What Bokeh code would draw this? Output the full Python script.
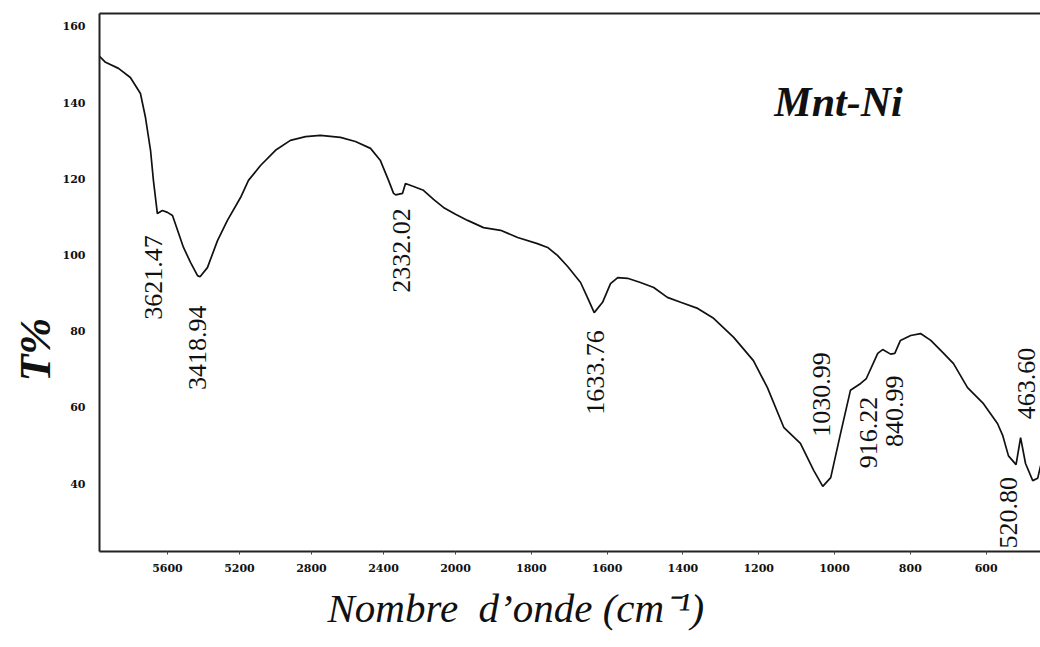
import numpy as np
from bokeh.plotting import figure
from bokeh.models import Range1d, FixedTicker, LinearAxis, Label, ColumnDataSource, Title
from bokeh.core.properties import value
from bokeh.embed import file_html
from bokeh.resources import INLINE

# ---------------- data ----------------
wavenumber = [3983, 3944, 3872, 3806, 3750, 3722, 3694, 3678, 3656, 3628, 3600, 3572,
              3511, 3472, 3433, 3419, 3378, 3322, 3267, 3194, 3150, 3083, 3000, 2917,
              2833, 2750, 2639, 2556, 2472, 2417, 2372, 2344, 2332, 2294, 2278, 2233,
              2178, 2122, 2067, 2000, 1968, 1926, 1881, 1836, 1784, 1757, 1731, 1704,
              1670, 1652, 1634, 1612, 1591, 1572, 1546, 1512, 1477, 1441, 1406, 1361,
              1319, 1266, 1214, 1177, 1134, 1090, 1055, 1031, 1010, 984, 958, 931,
              916, 886, 873, 852, 841, 826, 799, 773, 746, 712, 686, 649, 607, 570,
              556, 541, 521, 509, 496, 477, 464, 456]
transmittance = [152.4, 150.6, 149.0, 146.6, 142.4, 136.1, 127.5, 119.6, 110.9, 111.7, 111.2, 110.4,
                 102.0, 98.1, 94.6, 94.3, 96.7, 103.8, 109.1, 115.1, 119.6, 123.5, 127.5, 130.1,
                 131.1, 131.4, 130.9, 129.8, 128.0, 124.8, 119.6, 116.2, 115.8, 116.2, 118.8, 118.0,
                 117.0, 114.6, 112.5, 110.7, 109.1, 107.2, 106.5, 104.6, 103.0, 102.0, 99.9, 97.0,
                 92.8, 88.9, 84.9, 87.6, 92.5, 94.1, 93.9, 92.8, 91.5, 88.9, 87.6, 86.0,
                 83.4, 78.4, 72.3, 65.2, 54.8, 50.6, 43.5, 39.3, 41.6, 53.2, 64.5, 66.3,
                 67.6, 74.2, 75.2, 74.0, 74.2, 77.6, 78.9, 79.4, 77.6, 74.2, 71.5, 65.2, 61.0, 55.8,
                 52.6, 47.3, 45.0, 52.1, 45.3, 40.8, 41.4, 44.8]

peak_labels = ["3621.47", "3418.94", "2332.02", "1633.76", "1030.99", "916.22", "840.99", "520.80", "463.60"]
peak_wn = [3621.47, 3418.94, 2332.02, 1633.76, 1030.99, 916.22, 840.99, 520.80, 463.60]

tick_wn = [3600, 3200, 2800, 2400, 2000, 1800, 1600, 1400, 1200, 1000, 800, 600]
tick_text = ["5600", "5200", "2800", "2400", "2000", "1800", "1600", "1400", "1200", "1000", "800", "600"]
y_ticks = [40, 60, 80, 100, 120, 140, 160]

sample_name = "Mnt-Ni"
x_title = "Nombre \u00a0d\u2019onde (cm\u207b\u00b9)"
y_title = "T%"

# ------------- axis with scale break at 2000 cm-1 -------------
BREAK = 2000.0
COMPRESS = 0.475


def to_axis(wn):
    wn = np.asarray(wn, dtype=float)
    return np.where(wn > BREAK, BREAK + (wn - BREAK) * COMPRESS, wn)


# ------------- label layout (annotation placement) -------------
peak_dx = [-10, -3, 6, 1, -1, 2, 0, -8, -11]          # px offsets from peak position
peak_ty = [94.1, 75.7, 101.2, 69.2, 63.4, 53.4, 59.0, 32.4, 66.3]  # label centre, T%

serif = "Liberation Serif"

p = figure(width=1040, height=647, output_backend="svg", toolbar_location=None,
           x_range=Range1d(2939.3, 456.5), y_range=Range1d(22.2, 163.4),
           min_border_left=99, min_border_right=0, min_border_top=13, min_border_bottom=96,
           background_fill_color="white", border_fill_color="white")
p.outline_line_color = None
p.grid.visible = False

p.line(to_axis(wavenumber), transmittance, line_color="#111111", line_width=1.7)

src = ColumnDataSource(dict(x=to_axis(peak_wn), y=peak_ty, t=peak_labels, dx=peak_dx))
p.text(x="x", y="y", text="t", x_offset="dx", source=src, angle=np.pi / 2,
       text_align="center", text_baseline="middle",
       text_font=value(serif), text_font_size="26px", text_color="#111111")

# axes
xa = p.xaxis[0]
xa.ticker = FixedTicker(ticks=list(to_axis(tick_wn)))
xa.major_label_overrides = {float(u): t for u, t in zip(to_axis(tick_wn), tick_text)}
xa.axis_line_width = 2
xa.axis_line_color = "#222222"
xa.major_tick_in = 0
xa.major_tick_out = 3
xa.major_tick_line_color = "#444444"
xa.minor_tick_out = 0
xa.minor_tick_in = 0
xa.major_label_standoff = 9
xa.major_label_text_font = "DejaVu Serif"
xa.major_label_text_font_style = "bold"
xa.major_label_text_font_size = "11px"
xa.major_label_text_color = "#111111"

ya = p.yaxis[0]
ya.ticker = FixedTicker(ticks=y_ticks)
ya.axis_line_width = 2
ya.axis_line_color = "#222222"
ya.major_tick_in = 0
ya.major_tick_out = 0
ya.minor_tick_out = 0
ya.minor_tick_in = 0
ya.major_label_standoff = 14
ya.major_label_text_font = "DejaVu Serif"
ya.major_label_text_font_style = "bold"
ya.major_label_text_font_size = "11px"
ya.major_label_text_color = "#111111"

top = LinearAxis(ticker=FixedTicker(ticks=[]), axis_line_width=2, axis_line_color="#222222",
                 major_tick_out=0, major_tick_in=0, minor_tick_out=0, minor_tick_in=0,
                 major_label_standoff=0, major_label_text_font_size="0px")
p.add_layout(top, "above")

# titles
p.add_layout(Label(x=989.4, y=140.3, text=sample_name, text_font=serif, text_font_size="42px",
                   text_font_style="bold italic", text_align="center", text_baseline="middle",
                   text_color="#111111"))

p.add_layout(Title(text=x_title, align="left", offset=228, standoff=17,
                   text_font=serif, text_font_size="41px", text_font_style="italic",
                   text_color="#111111"), "below")
p.add_layout(Title(text=y_title, align="left", offset=170, standoff=0,
                   text_font=serif, text_font_size="44px", text_font_style="bold italic",
                   text_color="#111111"), "left")

open("out.html", "w").write(file_html(p, INLINE))
